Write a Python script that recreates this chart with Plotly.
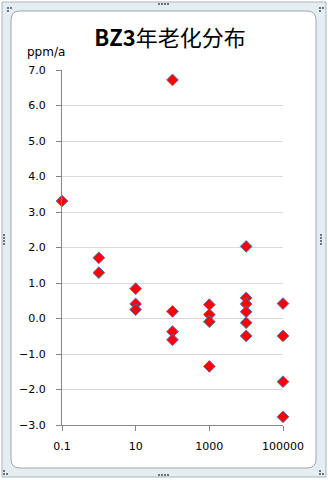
import plotly.graph_objects as go

# Aging rate (ppm/a) measured at each exposure level
levels = [0.1, 1, 10, 100, 1000, 10000, 100000]
rate_0_1 = [3.31]
rate_1 = [1.71, 1.29]
rate_10 = [0.84, 0.41, 0.25]
rate_100 = [6.72, 0.20, -0.37, -0.60]
rate_1000 = [0.39, 0.11, -0.09, -1.35]
rate_10000 = [2.03, 0.58, 0.41, 0.19, -0.12, -0.49]
rate_100000 = [0.42, -0.49, -1.78, -2.77]

x_ticks = [0.1, 10, 1000, 100000]
x_tick_text = ["0.1", "10", "1000", "100000"]
y_ticks = [-3, -2, -1, 0, 1, 2, 3, 4, 5, 6, 7]

groups = [rate_0_1, rate_1, rate_10, rate_100, rate_1000, rate_10000, rate_100000]
xs, ys = [], []
for lv, vals in zip(levels, groups):
    for v in vals:
        xs.append(lv)
        ys.append(v)

W, H = 328, 480
L, R, T, B = 62, 45, 70, 55
PW, PH = W - L - R, H - T - B


def px(x):
    return (x - L) / PW


def py(y):
    return 1 - (y - T) / PH


fig = go.Figure()
fig.add_trace(go.Scatter(
    x=xs, y=ys, mode="markers", cliponaxis=False,
    marker=dict(symbol="diamond", size=9, color="#ff0000",
                line=dict(color="#5070b8", width=1)),
    showlegend=False, hoverinfo="x+y",
))

shapes = []
# outer frame band
shapes.append(dict(type="rect", xref="paper", yref="paper", layer="below",
                   x0=px(2), x1=px(326), y0=py(477), y1=py(2),
                   line=dict(color="#a9b4bb", width=1), fillcolor="#e4eef2"))
# inner rounded chart area
r = 9
x0, x1, y0, y1 = 11, 316, 11, 468
path = (f"M {px(x0 + r)},{py(y0)} L {px(x1 - r)},{py(y0)} "
        f"Q {px(x1)},{py(y0)} {px(x1)},{py(y0 + r)} "
        f"L {px(x1)},{py(y1 - r)} Q {px(x1)},{py(y1)} {px(x1 - r)},{py(y1)} "
        f"L {px(x0 + r)},{py(y1)} Q {px(x0)},{py(y1)} {px(x0)},{py(y1 - r)} "
        f"L {px(x0)},{py(y0 + r)} Q {px(x0)},{py(y0)} {px(x0 + r)},{py(y0)} Z")
shapes.append(dict(type="path", xref="paper", yref="paper", layer="below",
                   path=path, line=dict(color="#a0a6aa", width=1),
                   fillcolor="#ffffff"))

# resize handles
handle_col = "#6b7478"


def dot(cx, cy):
    shapes.append(dict(type="rect", xref="paper", yref="paper", layer="above",
                       x0=px(cx), x1=px(cx + 2), y0=py(cy + 2), y1=py(cy),
                       line=dict(width=0), fillcolor=handle_col))


for cx, cy in [(7, 7), (3, 473), (319, 7), (319, 473)]:
    dot(cx, cy); dot(cx + 3, cy)
    dot(cx, cy + 3 if cy < 100 else cy - 3)
for i in range(4):
    dot(158 + 3 * i, 3)
    dot(158 + 3 * i, 474)
    dot(3, 234 + 3 * i)
    dot(320, 234 + 3 * i)

fig.update_layout(
    width=W, height=H,
    margin=dict(l=L, r=R, t=T, b=B),
    paper_bgcolor="#ffffff", plot_bgcolor="rgba(0,0,0,0)",
    shapes=shapes,
    title=dict(text="<b>BZ3</b>年老化分布", xref="container", yref="container",
               x=170 / W, y=1 - 38 / H, xanchor="center", yanchor="middle",
               font=dict(family="Noto Sans CJK SC", size=22, color="#000000")),
    annotations=[dict(text="ppm/a", xref="paper", yref="paper",
                      x=px(25), y=py(52), xanchor="left", yanchor="middle",
                      showarrow=False,
                      font=dict(family="DejaVu Sans", size=12, color="#000000"))],
    xaxis=dict(type="log", range=[-1, 5], tickvals=x_ticks, ticktext=x_tick_text,
               showgrid=False, zeroline=False, showline=True,
               linecolor="#868686", linewidth=1, ticks="outside", ticklen=5,
               tickcolor="#868686", ticklabelstandoff=6,
               tickfont=dict(family="DejaVu Sans", size=11, color="#000000")),
    yaxis=dict(range=[-3, 7], tickvals=y_ticks, tickformat=".1f",
               showgrid=True, gridcolor="#d9d9d9", gridwidth=1,
               zeroline=False, showline=True, linecolor="#868686", linewidth=1,
               ticks="outside", ticklen=5, tickcolor="#868686",
               ticklabelstandoff=8,
               tickfont=dict(family="DejaVu Sans", size=11, color="#000000")),
)

fig.write_html("out.html")
